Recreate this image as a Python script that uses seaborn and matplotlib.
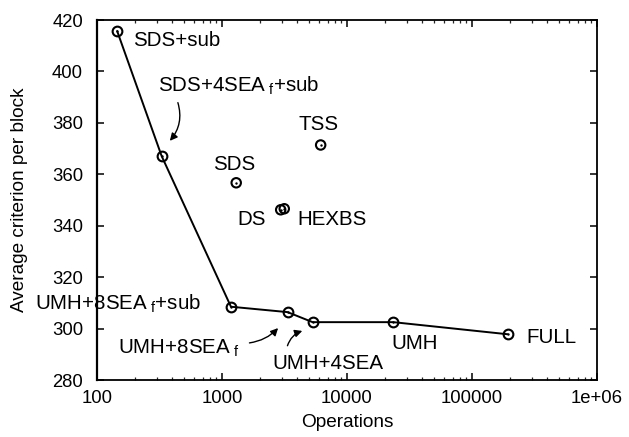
import matplotlib
matplotlib.use("Agg")
import matplotlib.pyplot as plt
import seaborn as sns
import pandas as pd
from matplotlib.ticker import LogLocator, FixedLocator, NullFormatter, FuncFormatter

# ---- data ----
front_names = ["SDS+sub", "SDS+4SEA$_{\\ \\mathrm{f}}$+sub", "UMH+8SEA$_{\\ \\mathrm{f}}$+sub",
               "UMH+8SEA$_{\\ \\mathrm{f}}$", "UMH+4SEA", "UMH", "FULL"]
front_ops = [145, 329, 1180, 3350, 5310, 23500, 193000]
front_crit = [415.7, 367.1, 308.5, 306.4, 302.5, 302.5, 297.8]

other_names = ["SDS", "TSS", "DS", "HEXBS"]
other_ops = [1300, 6160, 2950, 3150]
other_crit = [356.7, 371.4, 346.2, 346.6]

y_ticks = [280, 300, 320, 340, 360, 380, 400, 420]
x_ticks = [100, 1000, 10000, 100000, 1000000]
x_tick_labels = ["100", "1000", "10000", "100000", "1e+06"]

sns.set_theme(style="ticks")
plt.rcParams["font.family"] = ["Liberation Sans", "DejaVu Sans"]
plt.rcParams["mathtext.fontset"] = "custom"
plt.rcParams["mathtext.rm"] = "Liberation Sans"
plt.rcParams["mathtext.it"] = "Liberation Sans"
plt.rcParams["text.color"] = "black"
plt.rcParams["axes.labelcolor"] = "black"

front = pd.DataFrame({"ops": front_ops, "crit": front_crit})
other = pd.DataFrame({"ops": other_ops, "crit": other_crit})
allpts = pd.concat([front, other], ignore_index=True)

fig = plt.figure(figsize=(6.29, 4.37), dpi=100)
ax = fig.add_axes([0.1542, 0.1304, 0.7948, 0.8238])

sns.lineplot(data=front, x="ops", y="crit", sort=False, color="black", lw=1.4,
             marker="o", markersize=7, markerfacecolor="none",
             markeredgecolor="black", markeredgewidth=1.5, ax=ax)
sns.scatterplot(data=other, x="ops", y="crit", marker="o", s=46,
                facecolor="none", edgecolor="black", linewidth=1.5, ax=ax)
sns.scatterplot(data=allpts, x="ops", y="crit", marker="o", s=3,
                color="black", linewidth=0, ax=ax)

ax.set_xscale("log")
ax.set_xlim(100, 1000000)
ax.set_ylim(280, 420)
ax.xaxis.set_major_locator(FixedLocator(x_ticks))
ax.xaxis.set_major_formatter(FuncFormatter(lambda v, p: x_tick_labels[x_ticks.index(v)] if v in x_ticks else ""))
ax.xaxis.set_minor_locator(LogLocator(base=10, subs=range(2, 10)))
ax.xaxis.set_minor_formatter(NullFormatter())
ax.yaxis.set_major_locator(FixedLocator(y_ticks))

for s in ax.spines.values():
    s.set_visible(True)
    s.set_linewidth(1.3)
    s.set_color("black")
ax.spines["left"].set_linewidth(1.6)

ax.tick_params(which="major", direction="in", length=5, width=1.1, top=True, right=True,
               labelsize=13.3, colors="black")
ax.tick_params(axis="x", which="major", pad=7.5)
ax.tick_params(axis="y", which="major", pad=10)
ax.tick_params(which="minor", direction="in", length=2.5, width=0.9, top=True, right=True)

ax.set_xlabel("Operations", fontsize=13.7, labelpad=5, color="black")
ax.set_ylabel("Average criterion per block", fontsize=13.7, labelpad=17, color="black")

fs = 14.8
tk = dict(fontsize=fs, va="baseline", color="black")
# label positions (data coords, baseline)
ax.text(194, 409.9, front_names[0], ha="left", **tk)
ax.text(308, 392.1, front_names[1], ha="left", **tk)
ax.text(31.9, 307.2, front_names[2], ha="left", clip_on=False, **tk)
ax.text(148, 290.4, front_names[3], ha="left", **tk)
ax.text(2543, 284.3, front_names[4], ha="left", **tk)
ax.text(22800, 292.0, front_names[5], ha="left", **tk)
ax.text(274000, 294.3, front_names[6], ha="left", **tk)

ax.text(1247, 361.7, other_names[0], ha="center", **tk)
ax.text(5900, 377.2, other_names[1], ha="center", **tk)
ax.text(1335, 340.3, other_names[2], ha="left", **tk)
ax.text(4033, 340.3, other_names[3], ha="left", **tk)

arrow = dict(arrowstyle="-|>", color="black", lw=1.0, mutation_scale=11)
ax.annotate("", xy=(370, 372.2), xytext=(437, 388.9),
            arrowprops=dict(arrow, connectionstyle="arc3,rad=-0.3"))
ax.annotate("", xy=(2911, 301.0), xytext=(1577, 294.3),
            arrowprops=dict(arrow, connectionstyle="arc3,rad=0.2"))
ax.annotate("", xy=(4613, 299.4), xytext=(3293, 292.3),
            arrowprops=dict(arrow, connectionstyle="arc3,rad=-0.3"))

fig.savefig("out.png", dpi=100)
